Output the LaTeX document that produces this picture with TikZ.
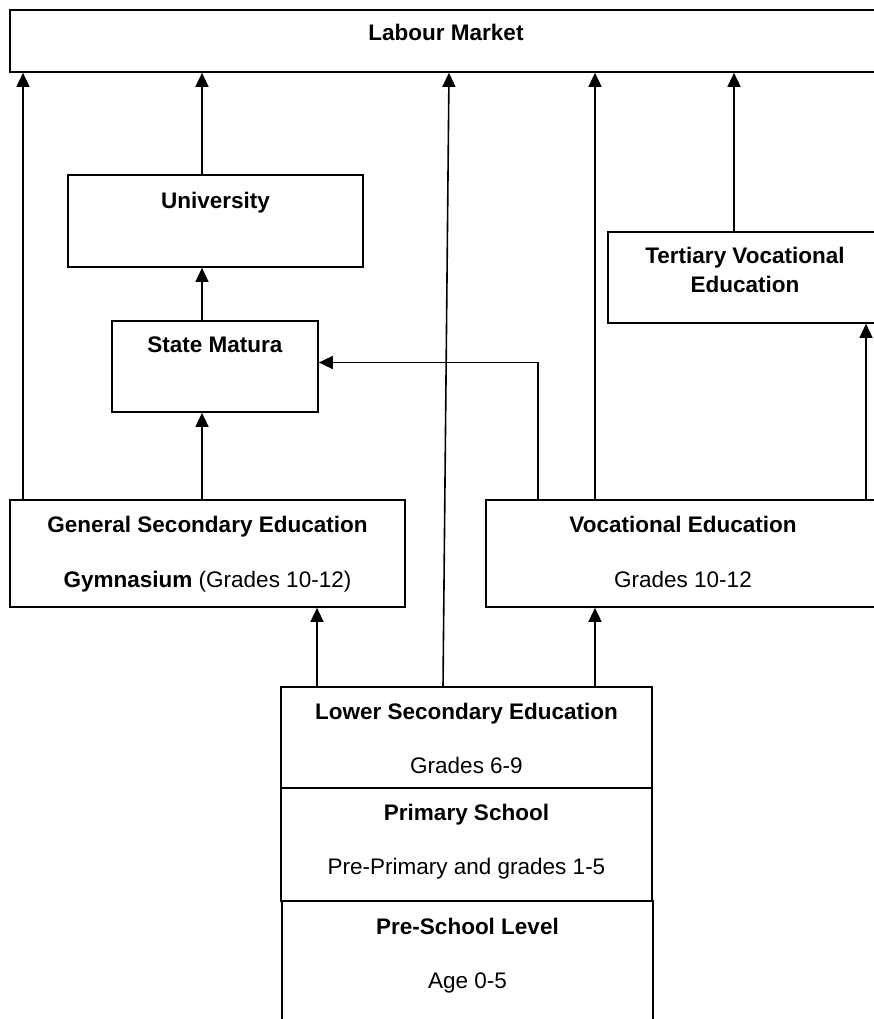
\documentclass[tikz,border=0pt]{standalone}
\usepackage{fontspec}
\setmainfont{Liberation Sans}
\usetikzlibrary{arrows.meta,fit}
\begin{document}
\begin{tikzpicture}[x=1pt,y=-1pt,
  box/.style={draw,line width=1.7pt,inner sep=0pt,fit={#1}},
  lbl/.style={inner sep=0pt,font=\fontsize{22.5}{29.5}\selectfont,align=center},
  bl/.style={lbl,anchor=base},
  arr/.style={line width=1.6pt,-{Triangle[length=14pt,width=13pt]}}]
\useasboundingbox (0,0) rectangle (874,1019);
\clip (0,0) rectangle (874,1019);
% boxes
\node[box={(10,10) (881,72)}] (lm) {};
\node[box={(68,175) (363,267)}] (uni) {};
\node[box={(112,321) (318,412)}] (mat) {};
\node[box={(608,232) (881,323)}] (ter) {};
\node[box={(10,500) (405,607)}] (gse) {};
\node[box={(486,500) (881,607)}] (voc) {};
\node[box={(281,687) (652,788)}] (low) {};
\node[box={(281,788) (652,901)}] (pri) {};
\node[box={(282,901) (653,1040)}] (pre) {};
% texts
\node[bl] (lmt) at (446,41) {\bfseries Labour Market};
\node[bl] (unit) at (215.5,208) {\bfseries University};
\node[bl] (matt) at (215,352) {\bfseries State Matura};
\node[lbl] (tert) at (745,270) {\bfseries Tertiary Vocational\\\bfseries Education};
\node[bl] (gset1) at (207.5,532) {\bfseries General Secondary Education};
\node[bl] (gset2) at (207.5,587) {\textbf{Gymnasium} (Grades 10-12)};
\node[bl] (voct1) at (683,532) {\bfseries Vocational Education};
\node[bl] (voct2) at (683,587) {Grades 10-12};
\node[bl] (lowt1) at (466.5,719) {\bfseries Lower Secondary Education};
\node[bl] (lowt2) at (466.5,773) {Grades 6-9};
\node[bl] (prit1) at (466.5,820) {\bfseries Primary School};
\node[bl] (prit2) at (466.5,874) {Pre-Primary and grades 1-5};
\node[bl] (pret1) at (467.5,934) {\bfseries Pre-School Level};
\node[bl] (pret2) at (467.5,988) {Age 0-5};
% connectors
\draw[arr] (gse.north -| 23,0) -- (lm.south -| 23,0);
\draw[arr] (gse.north -| 202,0) -- (mat.south -| 202,0);
\draw[arr] (mat.north -| 202,0) -- (uni.south -| 202,0);
\draw[arr] (uni.north -| 202,0) -- (lm.south -| 202,0);
\draw[arr] (low.north -| 443,0) -- (lm.south -| 449,0);
\draw[arr] (low.north -| 317,0) -- (gse.south -| 317,0);
\draw[arr] (low.north -| 595,0) -- (voc.south -| 595,0);
\draw[arr] (voc.north -| 595,0) -- (lm.south -| 595,0);
\draw[arr] (voc.north -| 538,0) |- ([yshift=4pt]mat.east);
\draw[arr] (voc.north -| 866,0) -- (ter.south -| 866,0);
\draw[arr] (ter.north -| 734,0) -- (lm.south -| 734,0);
\end{tikzpicture}
\end{document}
